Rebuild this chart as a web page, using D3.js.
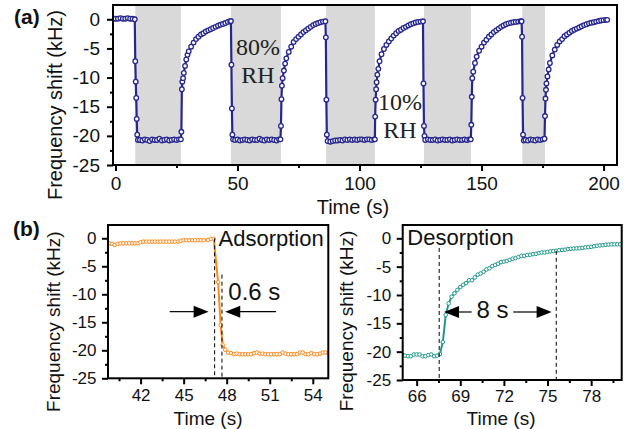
<!DOCTYPE html>
<html><head><meta charset="utf-8">
<script src="https://cdn.jsdelivr.net/npm/d3@7"></script>
<style>
body{margin:0;background:#fff;}
svg{display:block;font-family:"Liberation Sans",Arial,sans-serif;}
</style></head><body>
<svg id="c" width="642" height="429"></svg>
<script>
// ---------------- DATA ----------------
const topXTicks = [0, 50, 100, 150, 200];
const topXMinor = [25, 75, 125, 175];
const yTicks = [0, -5, -10, -15, -20, -25];
const yMinor = [-2.5, -7.5, -12.5, -17.5, -22.5];
const humidBands = [[8.1, 26.8], [47.3, 67.8], [86.3, 106.3], [126.4, 145.7], [166.7, 176.0]];

// time (s), frequency shift (kHz) of the cyclic humidity test (a)
const cycleData = [
  [-0.8,0.1],[0,0.1],[1,0.1],[2,0.2],[3,0.1],[4,0.1],[5,0.2],[6,0.1],[7,0.1],[7.9,0.0],
  [8.1,-7.2],[8.3,-10.7],[8.5,-13.5],[8.7,-17.1],[8.9,-19.8],[9.2,-20.7],
  [10,-20.7],[11,-20.8],[12,-20.6],[13,-20.7],[14,-20.9],[15,-20.6],[16,-20.7],[17,-20.7],[18,-20.5],[19,-20.8],[20,-20.7],[21,-20.6],[22,-20.8],[23,-20.7],[24,-20.6],[25,-20.7],[26,-20.6],[26.8,-20.6],
  [27.0,-19.3],[27.2,-12.0],[27.4,-10.7],[27.7,-10.1],[28,-9.2],[28.5,-8.0],[29,-6.9],[29.5,-6.1],[30,-5.5],[31,-4.7],[32,-4.0],[33,-3.4],[34,-3.0],[35,-2.6],[36,-2.4],[37,-2.1],[38,-1.9],[39,-1.7],[40,-1.5],[41,-1.3],[42,-1.1],[43,-0.95],[44,-0.8],[45,-0.65],[46,-0.45],[47,-0.35],[47.3,-0.3],
  [47.5,-7.8],[47.7,-15.3],[47.9,-19.8],[48.2,-20.6],
  [49,-20.7],[50,-20.6],[51,-20.8],[52,-20.7],[53,-20.6],[54,-20.7],[55,-20.8],[56,-20.6],[57,-20.7],[58,-20.7],[59,-20.5],[60,-20.7],[61,-20.8],[62,-20.6],[63,-20.7],[64,-20.6],[65,-20.7],[66,-20.8],[67,-20.6],[67.6,-20.6],
  [67.8,-18.3],[68.0,-13.7],[68.2,-11.4],[68.5,-10.1],[69,-8.8],[69.5,-7.6],[70,-6.7],[71,-5.6],[72,-4.7],[73,-3.9],[74,-3.4],[75,-3.0],[76,-2.6],[77,-2.2],[78,-1.9],[79,-1.6],[80,-1.3],[81,-1.0],[82,-0.8],[83,-0.65],[84,-0.5],[85,-0.4],[86,-0.35],
  [86.2,-3.1],[86.4,-13.8],[86.6,-19.8],[86.9,-20.9],
  [88,-21.0],[89,-20.9],[90,-20.8],[91,-20.8],[92,-20.7],[93,-20.8],[94,-20.6],[95,-20.7],[96,-20.6],[97,-20.7],[98,-20.6],[99,-20.7],[100,-20.6],[101,-20.6],[102,-20.7],[103,-20.6],[104,-20.6],[105,-20.7],[106,-20.6],[106.3,-20.6],
  [106.4,-16.7],[106.6,-13.8],[106.8,-12.0],[107,-10.8],[107.3,-9.5],[107.7,-8.5],[108.2,-7.2],[109,-6.0],[110,-5.1],[111,-4.4],[112,-3.8],[113,-3.3],[114,-2.8],[115,-2.4],[116,-2.0],[117,-1.8],[118,-1.5],[119,-1.3],[120,-1.05],[121,-0.85],[122,-0.7],[123,-0.55],[124,-0.45],[125,-0.4],[126,-0.35],
  [126.2,-11.0],[126.4,-18.3],[126.6,-20.0],[126.9,-20.7],
  [128,-20.6],[129,-20.7],[130,-20.7],[131,-20.6],[132,-20.8],[133,-20.7],[134,-20.6],[135,-20.7],[136,-20.7],[137,-20.6],[138,-20.8],[139,-20.7],[140,-20.6],[141,-20.7],[142,-20.7],[143,-20.6],[144,-20.7],[145,-20.6],[145.6,-20.6],
  [145.8,-18.1],[146.0,-13.3],[146.2,-10.1],[146.6,-9.0],[147.3,-7.5],[148,-6.4],[149,-5.4],[150,-4.7],[151,-4.0],[152,-3.5],[153,-3.0],[154,-2.6],[155,-2.2],[156,-1.9],[157,-1.6],[158,-1.3],[159,-1.05],[160,-0.85],[161,-0.7],[162,-0.6],[163,-0.5],[164,-0.45],[165,-0.4],[166,-0.35],[166.4,-0.35],
  [166.6,-3.0],[166.8,-13.5],[167.0,-19.8],[167.3,-20.8],
  [168,-20.7],[169,-20.8],[170,-20.6],[171,-20.7],[172,-20.8],[173,-20.6],[174,-20.7],[175,-20.6],[175.8,-20.5],
  [176.0,-16.6],[176.2,-13.6],[176.4,-12.1],[176.6,-11.0],[177,-9.8],[177.5,-8.6],[178,-7.5],[179,-6.2],[180,-5.2],[181,-4.4],[182,-3.8],[183,-3.4],[184,-2.9],[185,-2.6],[186,-2.3],[187,-2.0],[188,-1.8],[189,-1.6],[190,-1.4],[191,-1.2],[192,-1.0],[193,-0.85],[194,-0.7],[195,-0.6],[196,-0.5],[197,-0.4],[198,-0.3],[199,-0.2],[200,-0.15],[201,-0.1],[201.5,-0.1]
];

// (b) left: adsorption step
const adsXTicks = [42, 45, 48, 51, 54];
const adsXMinor = [40.5, 43.5, 46.5, 49.5, 52.5];
const adsorptionData = [
  [39.8,-0.9],[40.0,-1.0],[40.2,-1.2],[40.4,-1.0],[40.6,-0.9],[40.8,-0.9],[41.0,-0.9],[41.2,-0.9],[41.4,-0.9],[41.6,-0.9],[41.8,-0.9],
  [42.0,-0.7],[42.2,-0.6],[42.4,-0.6],[42.6,-0.6],[42.8,-0.6],[43.0,-0.6],[43.2,-0.6],[43.4,-0.6],[43.6,-0.6],[43.8,-0.6],[44.0,-0.6],[44.2,-0.6],[44.4,-0.6],[44.6,-0.6],[44.8,-0.45],
  [45.0,-0.35],[45.2,-0.35],[45.4,-0.35],[45.6,-0.35],[45.8,-0.35],[46.0,-0.35],[46.2,-0.35],[46.4,-0.35],[46.7,-0.3],[46.9,-0.1],[47.1,-0.1],
  [47.4,-7.8],[47.58,-15.5],[47.72,-19.0],[47.9,-19.9],[48.1,-20.4],[48.3,-20.5],[48.5,-20.7],[48.7,-20.6],[48.9,-20.7],
  [49.1,-20.7],[49.3,-20.7],[49.5,-20.7],[49.7,-20.7],[49.9,-20.5],[50.1,-20.4],[50.3,-20.6],[50.5,-20.6],[50.7,-20.7],[50.9,-20.7],
  [51.1,-20.7],[51.3,-20.7],[51.5,-20.7],[51.7,-20.7],[51.9,-20.4],[52.1,-20.6],[52.3,-20.7],[52.5,-20.7],[52.7,-20.7],[52.9,-20.7],
  [53.1,-20.4],[53.3,-20.4],[53.5,-20.7],[53.7,-20.7],[53.9,-20.5],[54.1,-20.7],[54.3,-20.7],[54.5,-20.6],[54.7,-20.4],[54.9,-20.4],[55.1,-20.5]
];

// (b) right: desorption step
const desXTicks = [66, 69, 72, 75, 78];
const desXMinor = [67.5, 70.5, 73.5, 76.5, 79.5];
const desorptionData = [
  [65.0,-20.5],[65.2,-20.7],[65.4,-20.8],[65.6,-20.8],[65.8,-20.5],[66.0,-20.5],[66.2,-20.5],[66.4,-20.8],[66.6,-20.8],[66.8,-20.6],[67.0,-20.5],[67.2,-20.8],[67.4,-20.7],[67.6,-20.4],
  [67.8,-18.3],[68.0,-13.5],[68.2,-11.5],[68.4,-10.3],[68.6,-9.7],[68.8,-9.1],[69.0,-8.6],[69.2,-8.2],[69.4,-7.9],[69.6,-7.4],[69.8,-7.4],
  [70.0,-6.9],[70.2,-6.4],[70.4,-6.2],[70.6,-5.9],[70.8,-5.5],[71.0,-5.3],[71.2,-4.9],[71.4,-4.7],[71.6,-4.5],[71.8,-4.2],
  [72.0,-4.1],[72.2,-4.0],[72.4,-3.8],[72.6,-3.6],[72.8,-3.5],[73.0,-3.3],[73.2,-3.1],[73.4,-3.1],[73.6,-2.95],[73.8,-2.9],
  [74.0,-2.8],[74.2,-2.75],[74.4,-2.6],[74.6,-2.5],[74.8,-2.5],[75.0,-2.4],[75.2,-2.3],[75.4,-2.25],[75.6,-2.2],[75.8,-2.1],
  [76.0,-2.05],[76.2,-2.0],[76.4,-1.9],[76.6,-1.85],[76.8,-1.8],[77.0,-1.77],[77.2,-1.75],[77.4,-1.7],[77.6,-1.6],[77.8,-1.55],
  [78.0,-1.5],[78.2,-1.4],[78.4,-1.3],[78.6,-1.25],[78.8,-1.2],[79.0,-1.15],[79.2,-1.1],[79.4,-1.06],[79.6,-1.06],[79.8,-1.05],[80.0,-1.05]
];

// ---------------- DRAW ----------------
const svg = d3.select("#c");

function drawPanel(o) {
  const x = d3.scaleLinear().domain(o.xDomain).range([o.left, o.right]);
  const y = d3.scaleLinear().domain(o.yDomain).range([o.bottom, o.top]);
  const g = svg.append("g");
  const clipId = o.id + "-clip";
  svg.append("clipPath").attr("id", clipId).append("rect")
    .attr("x", o.left).attr("y", o.top).attr("width", o.right - o.left).attr("height", o.bottom - o.top);

  if (o.bands) {
    g.append("g").selectAll("rect").data(o.bands).join("rect")
      .attr("x", d => x(d[0])).attr("width", d => x(d[1]) - x(d[0]))
      .attr("y", o.top).attr("height", o.bottom - o.top).attr("fill", "#d9d9d9");
  }
  const dg = g.append("g").attr("clip-path", `url(#${clipId})`);
  dg.append("path").datum(o.data)
    .attr("fill", "none").attr("stroke", o.color).attr("stroke-width", o.lw)
    .attr("d", d3.line().x(d => x(d[0])).y(d => y(d[1])));
  dg.append("g").selectAll("circle").data(o.data).join("circle")
    .attr("cx", d => x(d[0])).attr("cy", d => y(d[1])).attr("r", o.r)
    .attr("fill", "#fff").attr("stroke", o.color).attr("stroke-width", o.sw);

  // axes
  const fmt = d => String(d);
  const xMin = g.append("g").attr("transform", `translate(0,${o.bottom})`)
    .call(d3.axisBottom(x).tickValues(o.xMinor).tickSize(3).tickSizeOuter(0).tickFormat(""));
  const xMaj = g.append("g").attr("transform", `translate(0,${o.bottom})`)
    .call(d3.axisBottom(x).tickValues(o.xMajor).tickSize(6).tickSizeOuter(0).tickPadding(o.xPad).tickFormat(fmt));
  const yMin = g.append("g").attr("transform", `translate(${o.left},0)`)
    .call(d3.axisLeft(y).tickValues(yMinor).tickSize(3).tickSizeOuter(0).tickFormat(""));
  const yMaj = g.append("g").attr("transform", `translate(${o.left},0)`)
    .call(d3.axisLeft(y).tickValues(yTicks).tickSize(6).tickSizeOuter(0).tickPadding(o.yPad).tickFormat(fmt));
  [xMin, xMaj, yMin, yMaj].forEach(a => {
    a.select(".domain").remove();
    a.selectAll(".tick line").attr("stroke", "#000").attr("stroke-width", 2);
    a.selectAll(".tick text").attr("fill", "#111").attr("font-size", o.fs)
      .attr("font-family", '"Liberation Sans", Arial, sans-serif');
  });

  g.append("rect").attr("x", o.left).attr("y", o.top)
    .attr("width", o.right - o.left).attr("height", o.bottom - o.top)
    .attr("fill", "none").attr("stroke", "#000").attr("stroke-width", 2);

  // titles
  g.append("text").attr("x", o.xTitle[0]).attr("y", o.xTitle[1]).attr("text-anchor", "middle")
    .attr("font-size", o.tfs).attr("fill", "#111").text("Time (s)");
  g.append("text").attr("transform", `translate(${o.yTitle[0]},${o.yTitle[1]}) rotate(-90)`)
    .attr("text-anchor", "middle").attr("font-size", o.tfs).attr("fill", "#111").text("Frequency shift (kHz)");
  return { x, y, g };
}

// (a)
const pa = drawPanel({
  id: "a", left: 113, right: 617, top: 5, bottom: 165,
  xDomain: [-1.02, 205.5], yDomain: [-25, 2.45],
  xMajor: topXTicks, xMinor: topXMinor, xPad: 6, yPad: 7, fs: 19, tfs: 20,
  bands: humidBands, data: cycleData, color: "#26268f", lw: 2.2, r: 2.3, sw: 1.3,
  xTitle: [353, 214], yTitle: [62, 105]
});
const serif = '"Liberation Serif", "Times New Roman", serif';
[["80%", 58.4, -6.1], ["RH", 58.4, -10.9], ["10%", 116.6, -15.6], ["RH", 116.6, -20.4]].forEach(t => {
  pa.g.append("text").attr("x", pa.x(t[1])).attr("y", pa.y(t[2])).attr("text-anchor", "middle")
    .attr("font-family", serif).attr("font-size", 24).attr("fill", "#222").text(t[0]);
});
svg.append("text").attr("x", 14).attr("y", 24).attr("font-size", 21).attr("font-weight", "bold").attr("fill", "#111").text("(a)");
svg.append("text").attr("x", 13).attr("y", 236).attr("font-size", 21).attr("font-weight", "bold").attr("fill", "#111").text("(b)");

// arrow helper
function arrow(p, x1, x2, yv) {
  const X1 = p.x(x1), X2 = p.x(x2), Y = p.y(yv);
  const dir = Math.sign(X2 - X1);
  p.g.append("line").attr("x1", X1).attr("x2", X2 - dir * 12).attr("y1", Y).attr("y2", Y)
    .attr("stroke", "#000").attr("stroke-width", 1.2);
  p.g.append("path").attr("d", `M${X2},${Y} L${X2 - dir * 15},${Y - 6} L${X2 - dir * 15},${Y + 6} Z`).attr("fill", "#000");
}
function dashed(p, xv, y1, y2) {
  p.g.append("line").attr("x1", p.x(xv)).attr("x2", p.x(xv)).attr("y1", p.y(y1)).attr("y2", p.y(y2))
    .attr("stroke", "#000").attr("stroke-width", 1).attr("stroke-dasharray", "4,3");
}

// (b) left
const pb1 = drawPanel({
  id: "b1", left: 108, right: 328.3, top: 225, bottom: 378.3,
  xDomain: [39.73, 55.08], yDomain: [-25, 2.37],
  xMajor: adsXTicks, xMinor: adsXMinor, xPad: 5, yPad: 5.5, fs: 17, tfs: 19,
  data: adsorptionData, color: "#ff8a1c", lw: 2, r: 1.8, sw: 1,
  xTitle: [208, 424.5], yTitle: [60, 321.7]
});
dashed(pb1, 47.16, 0, -25);
dashed(pb1, 47.67, -6.5, -25);
arrow(pb1, 44.03, 46.74, -13.1);
arrow(pb1, 51.44, 47.9, -13.1);
pb1.g.append("text").attr("x", 218.5).attr("y", 245.5).attr("font-size", 22).attr("fill", "#111").text("Adsorption");
pb1.g.append("text").attr("x", 228.3).attr("y", 300).attr("font-size", 24).attr("fill", "#111").text("0.6 s");

// (b) right
const pb2 = drawPanel({
  id: "b2", left: 402.7, right: 621.7, top: 225, bottom: 380,
  xDomain: [65.04, 80.1], yDomain: [-25, 2.35],
  xMajor: desXTicks, xMinor: desXMinor, xPad: 4, yPad: 5.5, fs: 17, tfs: 19,
  data: desorptionData, color: "#23998c", lw: 2, r: 1.8, sw: 1,
  xTitle: [501, 424.5], yTitle: [353, 321]
});
dashed(pb2, 67.55, -1.7, -25);
dashed(pb2, 75.6, -2.2, -25);
arrow(pb2, 69.78, 67.88, -13.0);
arrow(pb2, 72.64, 75.28, -13.0);
pb2.g.append("text").attr("x", 407.3).attr("y", 245).attr("font-size", 22).attr("fill", "#111").text("Desorption");
pb2.g.append("text").attr("x", 492.5).attr("y", 318).attr("text-anchor", "middle").attr("font-size", 24).attr("fill", "#111").text("8 s");
</script>
</body></html>
